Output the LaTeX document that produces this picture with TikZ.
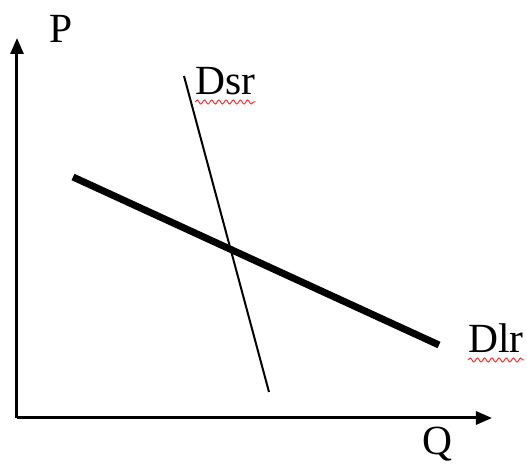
\documentclass[tikz,border=0pt]{standalone}
\usepackage{fontspec}
\setmainfont{Liberation Serif}
\usetikzlibrary{arrows.meta,decorations.pathmorphing}
\begin{document}
\begin{tikzpicture}[x=0.5pt,y=-0.5pt,
  axisline/.style={line width=1.5pt,-{Triangle[length=8pt,width=6.5pt]}},
  lbl/.style={inner sep=0pt,anchor=base west,font=\fontsize{20.75}{24}\selectfont},
  spell/.style={red!80!white,line width=0.5pt,decorate,decoration={snake,amplitude=1pt,segment length=3.6pt}}]
\useasboundingbox[fill=white] (0,0) rectangle (527,465);
\coordinate (O) at (17,418);
\coordinate (Ptop) at (17,38);
\coordinate (Qend) at (492,418);
\draw[axisline] (O) -- (Ptop);
\draw[axisline] (O) -- (Qend);
\coordinate (s1) at (184,76);
\coordinate (s2) at (269,392);
\draw[line width=1pt] (s1) -- (s2);
\coordinate (l1) at (73,177);
\coordinate (l2) at (439,345);
\draw[line width=3.5pt] (l1) -- (l2);
\node[lbl] (P) at (49,43) {P};
\node[lbl] (Dsr) at (195,95) {Dsr};
\node[lbl] (Dlr) at (468,353) {Dlr};
\node[lbl] (Q) at (422,455) {Q};
\draw[spell] ([yshift=-3.5pt]Dsr.base west) -- ([yshift=-3.5pt]Dsr.base east);
\draw[spell] ([yshift=-3.5pt]Dlr.base west) -- ([yshift=-3.5pt]Dlr.base east);
\end{tikzpicture}
\end{document}
